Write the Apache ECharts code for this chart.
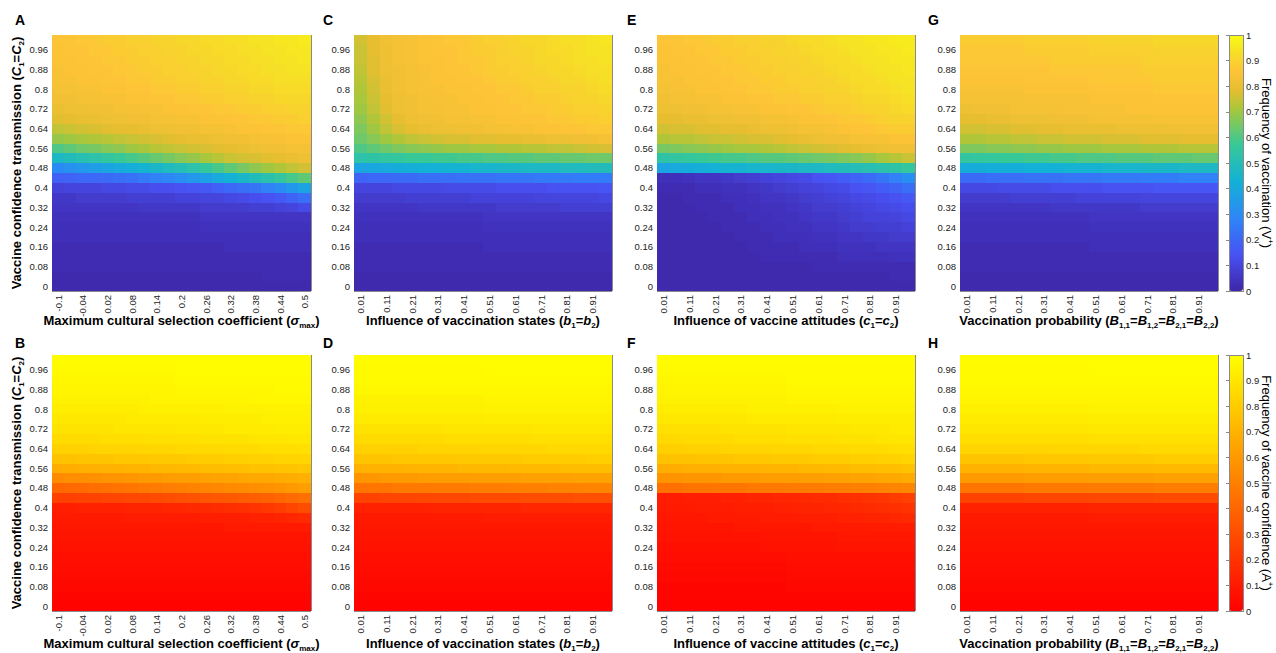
<!DOCTYPE html>
<html><head><meta charset="utf-8">
<script src="https://cdn.jsdelivr.net/npm/echarts@6/dist/echarts.min.js"></script>
<style>html,body{margin:0;padding:0;background:#fff}#c{width:1276px;height:653px}#c svg path{shape-rendering:crispEdges}</style>
</head><body><div id="c"></div>
<script>
// ---- categories / tick labels ----
const xSigma = ['-0.1','-0.07','-0.04','-0.01','0.02','0.05','0.08','0.11','0.14','0.17','0.2','0.23','0.26','0.29','0.32','0.35','0.38','0.41','0.44','0.47','0.5'];
const xUnit = ['0.01','0.06','0.11','0.16','0.21','0.26','0.31','0.36','0.41','0.46','0.51','0.56','0.61','0.66','0.71','0.76','0.81','0.86','0.91','0.96'];
const yC = ['0','0.04','0.08','0.12','0.16','0.2','0.24','0.28','0.32','0.36','0.4','0.44','0.48','0.52','0.56','0.6','0.64','0.68','0.72','0.76','0.8','0.84','0.88','0.92','0.96','1'];

// ---- panel A: V+ vs sigma_max (rows: y = 0 ... 1) ----
const vA = [
[0.01,0.01,0.01,0.01,0.01,0.01,0.01,0.01,0.01,0.01,0.01,0.01,0.01,0.01,0.01,0.01,0.01,0.01,0.01,0.01,0.01],
[0.01,0.01,0.01,0.01,0.01,0.01,0.01,0.01,0.01,0.01,0.01,0.01,0.01,0.01,0.01,0.01,0.01,0.02,0.02,0.02,0.02],
[0.02,0.02,0.02,0.02,0.02,0.02,0.02,0.02,0.02,0.02,0.02,0.02,0.02,0.02,0.02,0.02,0.02,0.02,0.02,0.02,0.02],
[0.02,0.02,0.02,0.02,0.02,0.02,0.02,0.02,0.02,0.02,0.02,0.02,0.02,0.02,0.02,0.02,0.02,0.02,0.02,0.02,0.02],
[0.02,0.02,0.02,0.02,0.02,0.02,0.02,0.02,0.02,0.02,0.02,0.02,0.02,0.02,0.03,0.03,0.03,0.03,0.03,0.03,0.03],
[0.03,0.03,0.03,0.03,0.03,0.03,0.03,0.03,0.03,0.03,0.03,0.03,0.03,0.03,0.03,0.03,0.03,0.03,0.03,0.03,0.03],
[0.03,0.03,0.03,0.03,0.03,0.03,0.03,0.03,0.03,0.03,0.03,0.03,0.04,0.04,0.04,0.04,0.04,0.04,0.04,0.04,0.04],
[0.04,0.04,0.04,0.04,0.04,0.04,0.04,0.04,0.04,0.04,0.04,0.04,0.05,0.05,0.05,0.05,0.05,0.05,0.05,0.05,0.05],
[0.05,0.05,0.05,0.05,0.05,0.05,0.05,0.06,0.06,0.06,0.06,0.06,0.07,0.07,0.07,0.07,0.08,0.08,0.09,0.10,0.12],
[0.06,0.06,0.07,0.07,0.07,0.07,0.08,0.08,0.08,0.08,0.09,0.09,0.10,0.10,0.11,0.12,0.13,0.14,0.16,0.19,0.22],
[0.09,0.10,0.10,0.10,0.11,0.11,0.12,0.12,0.13,0.13,0.14,0.15,0.16,0.18,0.20,0.22,0.24,0.27,0.30,0.34,0.38],
[0.18,0.19,0.20,0.20,0.21,0.22,0.23,0.25,0.27,0.29,0.31,0.34,0.37,0.40,0.43,0.46,0.49,0.52,0.55,0.59,0.62],
[0.30,0.32,0.34,0.36,0.38,0.40,0.42,0.44,0.46,0.48,0.50,0.53,0.56,0.59,0.62,0.65,0.68,0.70,0.72,0.74,0.76],
[0.47,0.49,0.51,0.53,0.55,0.57,0.59,0.61,0.63,0.65,0.67,0.69,0.71,0.73,0.75,0.76,0.77,0.78,0.79,0.80,0.81],
[0.60,0.62,0.64,0.65,0.67,0.68,0.70,0.71,0.73,0.74,0.75,0.76,0.77,0.78,0.79,0.80,0.81,0.82,0.82,0.83,0.83],
[0.69,0.70,0.71,0.72,0.73,0.74,0.75,0.76,0.77,0.78,0.79,0.80,0.80,0.81,0.82,0.82,0.83,0.84,0.84,0.85,0.85],
[0.74,0.75,0.76,0.77,0.78,0.79,0.79,0.80,0.81,0.81,0.82,0.82,0.83,0.83,0.84,0.85,0.85,0.86,0.86,0.87,0.87],
[0.78,0.79,0.80,0.80,0.81,0.81,0.82,0.82,0.83,0.83,0.84,0.84,0.85,0.85,0.86,0.86,0.87,0.87,0.88,0.88,0.89],
[0.80,0.81,0.81,0.82,0.82,0.83,0.83,0.84,0.84,0.85,0.85,0.86,0.86,0.87,0.87,0.88,0.88,0.89,0.89,0.90,0.90],
[0.82,0.82,0.83,0.83,0.84,0.84,0.85,0.85,0.86,0.86,0.87,0.87,0.88,0.88,0.89,0.89,0.90,0.90,0.91,0.91,0.91],
[0.83,0.83,0.84,0.84,0.85,0.85,0.86,0.86,0.87,0.87,0.88,0.88,0.89,0.89,0.90,0.90,0.91,0.91,0.92,0.92,0.92],
[0.84,0.84,0.85,0.85,0.86,0.86,0.87,0.87,0.88,0.88,0.89,0.89,0.90,0.90,0.91,0.91,0.92,0.92,0.93,0.93,0.93],
[0.84,0.85,0.85,0.86,0.86,0.87,0.87,0.88,0.88,0.89,0.89,0.90,0.90,0.91,0.91,0.92,0.92,0.93,0.93,0.94,0.94],
[0.85,0.85,0.86,0.86,0.87,0.87,0.88,0.88,0.89,0.89,0.90,0.90,0.91,0.91,0.92,0.92,0.93,0.93,0.94,0.94,0.95],
[0.85,0.86,0.86,0.87,0.87,0.88,0.88,0.89,0.89,0.90,0.90,0.91,0.91,0.92,0.92,0.93,0.93,0.94,0.94,0.95,0.95],
[0.86,0.86,0.87,0.87,0.88,0.88,0.89,0.89,0.90,0.90,0.91,0.91,0.92,0.92,0.93,0.93,0.94,0.94,0.95,0.95,0.96]
];

// ---- panel C: V+ vs b ----
const vC = [
[0.01,0.01,0.01,0.01,0.01,0.01,0.01,0.01,0.01,0.01,0.01,0.01,0.01,0.01,0.01,0.01,0.01,0.01,0.01,0.01],
[0.01,0.01,0.01,0.01,0.01,0.01,0.01,0.01,0.01,0.01,0.01,0.01,0.01,0.01,0.01,0.01,0.01,0.01,0.01,0.01],
[0.02,0.02,0.02,0.02,0.02,0.02,0.02,0.02,0.02,0.02,0.02,0.02,0.02,0.02,0.02,0.02,0.02,0.02,0.02,0.02],
[0.02,0.02,0.02,0.02,0.02,0.02,0.02,0.02,0.02,0.02,0.02,0.02,0.02,0.02,0.02,0.02,0.02,0.02,0.02,0.02],
[0.02,0.02,0.02,0.02,0.02,0.02,0.02,0.02,0.02,0.02,0.03,0.03,0.03,0.03,0.03,0.03,0.03,0.03,0.03,0.03],
[0.03,0.03,0.03,0.03,0.03,0.03,0.03,0.03,0.03,0.03,0.03,0.03,0.03,0.03,0.03,0.03,0.03,0.03,0.03,0.03],
[0.03,0.03,0.03,0.03,0.03,0.03,0.03,0.03,0.03,0.03,0.04,0.04,0.04,0.04,0.04,0.04,0.04,0.04,0.04,0.04],
[0.04,0.04,0.04,0.04,0.04,0.04,0.04,0.04,0.04,0.04,0.05,0.05,0.05,0.05,0.05,0.05,0.05,0.05,0.05,0.05],
[0.05,0.05,0.05,0.05,0.05,0.06,0.06,0.06,0.06,0.06,0.06,0.07,0.07,0.07,0.07,0.07,0.08,0.08,0.08,0.08],
[0.07,0.07,0.07,0.07,0.08,0.08,0.08,0.08,0.08,0.09,0.09,0.09,0.09,0.09,0.10,0.10,0.10,0.10,0.10,0.11],
[0.10,0.10,0.10,0.11,0.11,0.11,0.11,0.12,0.12,0.12,0.12,0.13,0.13,0.13,0.13,0.14,0.14,0.14,0.14,0.15],
[0.19,0.20,0.20,0.21,0.21,0.22,0.22,0.22,0.23,0.23,0.23,0.24,0.24,0.24,0.25,0.25,0.25,0.26,0.26,0.26],
[0.38,0.39,0.40,0.41,0.42,0.43,0.43,0.44,0.44,0.45,0.45,0.46,0.46,0.47,0.47,0.47,0.48,0.48,0.49,0.49],
[0.53,0.54,0.55,0.56,0.57,0.57,0.58,0.58,0.59,0.59,0.60,0.60,0.61,0.61,0.62,0.62,0.63,0.63,0.64,0.64],
[0.60,0.62,0.64,0.66,0.67,0.68,0.69,0.70,0.70,0.71,0.71,0.72,0.72,0.73,0.73,0.74,0.74,0.75,0.76,0.77],
[0.64,0.67,0.70,0.72,0.74,0.75,0.76,0.77,0.77,0.78,0.78,0.79,0.79,0.80,0.80,0.81,0.81,0.82,0.82,0.83],
[0.66,0.70,0.74,0.77,0.79,0.80,0.81,0.81,0.82,0.82,0.83,0.83,0.84,0.84,0.85,0.85,0.86,0.86,0.87,0.87],
[0.68,0.72,0.76,0.79,0.81,0.82,0.82,0.83,0.83,0.84,0.84,0.85,0.85,0.86,0.86,0.87,0.87,0.88,0.88,0.89],
[0.70,0.74,0.78,0.81,0.82,0.83,0.83,0.84,0.84,0.85,0.85,0.86,0.86,0.87,0.87,0.88,0.88,0.89,0.89,0.90],
[0.71,0.75,0.79,0.81,0.82,0.83,0.84,0.84,0.85,0.85,0.86,0.86,0.87,0.87,0.88,0.88,0.89,0.90,0.90,0.91],
[0.72,0.76,0.80,0.82,0.83,0.84,0.84,0.85,0.85,0.86,0.86,0.87,0.87,0.88,0.89,0.89,0.90,0.90,0.91,0.92],
[0.73,0.77,0.80,0.82,0.83,0.84,0.85,0.85,0.86,0.86,0.87,0.88,0.88,0.89,0.89,0.90,0.91,0.91,0.92,0.93],
[0.74,0.78,0.81,0.82,0.83,0.84,0.85,0.86,0.86,0.87,0.88,0.88,0.89,0.89,0.90,0.91,0.91,0.92,0.93,0.93],
[0.75,0.78,0.81,0.83,0.84,0.85,0.85,0.86,0.87,0.87,0.88,0.89,0.89,0.90,0.91,0.91,0.92,0.93,0.93,0.94],
[0.75,0.79,0.81,0.83,0.84,0.85,0.86,0.86,0.87,0.88,0.88,0.89,0.90,0.90,0.91,0.92,0.92,0.93,0.94,0.94],
[0.76,0.79,0.82,0.83,0.84,0.85,0.86,0.87,0.87,0.88,0.89,0.89,0.90,0.91,0.91,0.92,0.93,0.93,0.94,0.95]
];

// ---- panel E: V+ vs c ----
const vE = [
[0.01,0.01,0.01,0.01,0.01,0.01,0.01,0.01,0.01,0.01,0.01,0.01,0.01,0.01,0.01,0.01,0.01,0.01,0.01,0.01],
[0.01,0.01,0.01,0.01,0.01,0.01,0.01,0.01,0.01,0.01,0.01,0.01,0.01,0.01,0.01,0.01,0.01,0.01,0.02,0.02],
[0.01,0.01,0.01,0.01,0.01,0.01,0.01,0.01,0.01,0.01,0.01,0.01,0.02,0.02,0.02,0.02,0.02,0.02,0.02,0.02],
[0.01,0.01,0.01,0.01,0.01,0.01,0.01,0.01,0.02,0.02,0.02,0.02,0.02,0.02,0.03,0.03,0.03,0.03,0.04,0.04],
[0.01,0.01,0.01,0.01,0.01,0.01,0.01,0.02,0.02,0.02,0.02,0.03,0.03,0.03,0.04,0.04,0.04,0.05,0.05,0.05],
[0.01,0.01,0.01,0.01,0.01,0.01,0.02,0.02,0.02,0.03,0.03,0.03,0.04,0.04,0.05,0.05,0.06,0.06,0.07,0.07],
[0.01,0.01,0.01,0.01,0.01,0.02,0.02,0.02,0.03,0.03,0.04,0.04,0.05,0.05,0.06,0.07,0.07,0.08,0.08,0.09],
[0.01,0.01,0.01,0.01,0.02,0.02,0.02,0.03,0.03,0.04,0.04,0.05,0.06,0.06,0.07,0.08,0.09,0.09,0.10,0.11],
[0.01,0.01,0.01,0.02,0.02,0.02,0.03,0.03,0.04,0.04,0.05,0.06,0.07,0.07,0.08,0.09,0.10,0.11,0.12,0.13],
[0.01,0.01,0.02,0.02,0.02,0.03,0.03,0.04,0.05,0.05,0.06,0.07,0.08,0.09,0.10,0.11,0.12,0.13,0.14,0.16],
[0.02,0.02,0.02,0.03,0.03,0.04,0.04,0.05,0.06,0.07,0.08,0.09,0.10,0.11,0.12,0.14,0.15,0.17,0.19,0.22],
[0.03,0.03,0.04,0.05,0.05,0.06,0.07,0.08,0.09,0.10,0.11,0.12,0.14,0.15,0.17,0.19,0.21,0.24,0.27,0.31],
[0.38,0.40,0.41,0.42,0.43,0.44,0.44,0.45,0.45,0.46,0.46,0.47,0.47,0.48,0.49,0.50,0.51,0.52,0.54,0.56],
[0.54,0.55,0.56,0.57,0.58,0.59,0.59,0.60,0.61,0.61,0.62,0.63,0.64,0.65,0.66,0.67,0.69,0.71,0.73,0.75],
[0.65,0.66,0.67,0.68,0.69,0.70,0.71,0.71,0.72,0.73,0.74,0.75,0.76,0.77,0.78,0.79,0.80,0.81,0.82,0.82],
[0.72,0.73,0.73,0.74,0.75,0.75,0.76,0.77,0.77,0.78,0.79,0.80,0.81,0.82,0.82,0.83,0.84,0.84,0.85,0.85],
[0.76,0.77,0.77,0.78,0.78,0.79,0.79,0.80,0.81,0.81,0.82,0.83,0.83,0.84,0.85,0.86,0.86,0.87,0.88,0.88],
[0.79,0.79,0.80,0.80,0.81,0.81,0.82,0.82,0.83,0.83,0.84,0.85,0.85,0.86,0.87,0.87,0.88,0.89,0.90,0.90],
[0.81,0.81,0.82,0.82,0.83,0.83,0.84,0.84,0.85,0.85,0.86,0.86,0.87,0.88,0.88,0.89,0.90,0.90,0.91,0.92],
[0.82,0.83,0.83,0.84,0.84,0.85,0.85,0.86,0.86,0.87,0.87,0.88,0.88,0.89,0.89,0.90,0.91,0.91,0.92,0.93],
[0.83,0.84,0.84,0.85,0.85,0.86,0.86,0.87,0.87,0.88,0.88,0.89,0.89,0.90,0.90,0.91,0.92,0.92,0.93,0.94],
[0.84,0.84,0.85,0.85,0.86,0.86,0.87,0.87,0.88,0.88,0.89,0.89,0.90,0.90,0.91,0.92,0.92,0.93,0.94,0.94],
[0.84,0.85,0.85,0.86,0.86,0.87,0.87,0.88,0.88,0.89,0.89,0.90,0.90,0.91,0.92,0.92,0.93,0.94,0.94,0.95],
[0.85,0.85,0.86,0.86,0.87,0.87,0.88,0.88,0.89,0.89,0.90,0.90,0.91,0.92,0.92,0.93,0.94,0.94,0.95,0.95],
[0.85,0.86,0.86,0.87,0.87,0.88,0.88,0.89,0.89,0.90,0.90,0.91,0.92,0.92,0.93,0.94,0.94,0.95,0.95,0.96],
[0.86,0.86,0.87,0.87,0.88,0.88,0.89,0.89,0.90,0.90,0.91,0.92,0.92,0.93,0.94,0.94,0.95,0.95,0.96,0.96]
];

// ---- panel G: V+ vs B ----
const vG = [
[0.01,0.01,0.01,0.01,0.01,0.01,0.01,0.01,0.01,0.01,0.01,0.01,0.01,0.01,0.01,0.01,0.01,0.01,0.01,0.01],
[0.01,0.01,0.01,0.01,0.01,0.01,0.01,0.01,0.01,0.01,0.01,0.01,0.01,0.01,0.01,0.01,0.01,0.01,0.01,0.01],
[0.02,0.02,0.02,0.02,0.02,0.02,0.02,0.02,0.02,0.02,0.02,0.02,0.02,0.02,0.02,0.02,0.02,0.02,0.02,0.02],
[0.02,0.02,0.02,0.02,0.02,0.02,0.02,0.02,0.02,0.02,0.02,0.02,0.02,0.02,0.02,0.02,0.02,0.02,0.02,0.02],
[0.02,0.02,0.02,0.02,0.02,0.02,0.02,0.02,0.02,0.02,0.03,0.03,0.03,0.03,0.03,0.03,0.03,0.03,0.03,0.03],
[0.03,0.03,0.03,0.03,0.03,0.03,0.03,0.03,0.03,0.03,0.03,0.03,0.03,0.03,0.03,0.03,0.03,0.03,0.03,0.03],
[0.03,0.03,0.03,0.03,0.03,0.03,0.03,0.03,0.03,0.03,0.04,0.04,0.04,0.04,0.04,0.04,0.04,0.04,0.04,0.04],
[0.04,0.04,0.04,0.04,0.04,0.04,0.04,0.04,0.04,0.04,0.05,0.05,0.05,0.05,0.05,0.05,0.05,0.05,0.05,0.05],
[0.05,0.05,0.05,0.05,0.05,0.05,0.05,0.06,0.06,0.06,0.06,0.06,0.06,0.06,0.07,0.07,0.07,0.07,0.07,0.07],
[0.07,0.07,0.07,0.07,0.08,0.08,0.08,0.08,0.08,0.09,0.09,0.09,0.09,0.09,0.10,0.10,0.10,0.10,0.10,0.10],
[0.11,0.11,0.11,0.12,0.12,0.12,0.12,0.13,0.13,0.13,0.13,0.14,0.14,0.14,0.14,0.15,0.15,0.15,0.15,0.15],
[0.21,0.21,0.22,0.22,0.22,0.23,0.23,0.23,0.24,0.24,0.24,0.25,0.25,0.25,0.26,0.26,0.26,0.27,0.27,0.27],
[0.41,0.41,0.42,0.42,0.42,0.43,0.43,0.43,0.44,0.44,0.44,0.45,0.45,0.45,0.46,0.46,0.46,0.47,0.47,0.47],
[0.55,0.56,0.56,0.57,0.57,0.58,0.58,0.59,0.59,0.60,0.60,0.60,0.61,0.61,0.61,0.62,0.62,0.62,0.63,0.63],
[0.66,0.66,0.67,0.67,0.68,0.68,0.69,0.69,0.70,0.70,0.70,0.71,0.71,0.71,0.72,0.72,0.72,0.73,0.73,0.73],
[0.72,0.72,0.73,0.73,0.74,0.74,0.75,0.75,0.76,0.76,0.76,0.77,0.77,0.77,0.78,0.78,0.78,0.79,0.79,0.79],
[0.76,0.76,0.77,0.77,0.78,0.78,0.79,0.79,0.80,0.80,0.80,0.80,0.81,0.81,0.81,0.81,0.82,0.82,0.82,0.82],
[0.79,0.79,0.80,0.80,0.81,0.81,0.81,0.82,0.82,0.82,0.83,0.83,0.83,0.83,0.83,0.84,0.84,0.84,0.84,0.84],
[0.81,0.82,0.82,0.82,0.83,0.83,0.83,0.83,0.84,0.84,0.84,0.84,0.84,0.85,0.85,0.85,0.85,0.85,0.85,0.85],
[0.83,0.83,0.83,0.83,0.83,0.84,0.84,0.84,0.84,0.84,0.85,0.85,0.85,0.85,0.85,0.86,0.86,0.86,0.86,0.86],
[0.84,0.84,0.84,0.84,0.84,0.85,0.85,0.85,0.85,0.85,0.86,0.86,0.86,0.86,0.86,0.87,0.87,0.87,0.87,0.87],
[0.85,0.85,0.85,0.85,0.85,0.86,0.86,0.86,0.86,0.86,0.87,0.87,0.87,0.87,0.87,0.88,0.88,0.88,0.88,0.88],
[0.86,0.86,0.86,0.86,0.86,0.86,0.86,0.87,0.87,0.87,0.87,0.87,0.87,0.87,0.88,0.88,0.88,0.88,0.88,0.88],
[0.87,0.87,0.87,0.87,0.87,0.87,0.87,0.88,0.88,0.88,0.88,0.88,0.88,0.88,0.89,0.89,0.89,0.89,0.89,0.89],
[0.87,0.87,0.87,0.87,0.87,0.88,0.88,0.88,0.88,0.88,0.89,0.89,0.89,0.89,0.89,0.90,0.90,0.90,0.90,0.90],
[0.88,0.88,0.88,0.88,0.88,0.89,0.89,0.89,0.89,0.89,0.90,0.90,0.90,0.90,0.90,0.91,0.91,0.91,0.91,0.91]
];

// ---- panel B: A+ vs sigma_max ----
const vB = [
[0.01,0.01,0.01,0.01,0.01,0.01,0.01,0.01,0.01,0.01,0.01,0.01,0.01,0.01,0.01,0.01,0.01,0.01,0.01,0.01,0.01],
[0.02,0.02,0.02,0.02,0.02,0.02,0.02,0.02,0.02,0.02,0.02,0.02,0.02,0.02,0.02,0.02,0.02,0.02,0.02,0.02,0.02],
[0.03,0.03,0.03,0.03,0.03,0.03,0.03,0.03,0.03,0.03,0.03,0.03,0.03,0.03,0.03,0.03,0.03,0.03,0.03,0.03,0.03],
[0.04,0.04,0.04,0.04,0.04,0.04,0.04,0.04,0.04,0.04,0.04,0.04,0.04,0.04,0.04,0.04,0.04,0.04,0.04,0.04,0.04],
[0.05,0.05,0.05,0.05,0.05,0.05,0.05,0.05,0.05,0.05,0.05,0.05,0.05,0.05,0.05,0.05,0.05,0.05,0.05,0.05,0.05],
[0.06,0.06,0.06,0.06,0.06,0.06,0.06,0.06,0.06,0.06,0.06,0.06,0.06,0.06,0.06,0.06,0.06,0.06,0.06,0.06,0.06],
[0.07,0.07,0.07,0.07,0.07,0.07,0.07,0.07,0.07,0.07,0.07,0.07,0.07,0.07,0.07,0.07,0.07,0.07,0.07,0.07,0.07],
[0.08,0.08,0.08,0.08,0.08,0.08,0.08,0.08,0.08,0.08,0.08,0.08,0.08,0.08,0.08,0.08,0.08,0.08,0.08,0.08,0.08],
[0.09,0.09,0.09,0.09,0.09,0.09,0.09,0.09,0.09,0.09,0.09,0.09,0.09,0.09,0.10,0.10,0.10,0.10,0.10,0.10,0.10],
[0.10,0.10,0.10,0.10,0.10,0.10,0.11,0.11,0.11,0.11,0.11,0.11,0.12,0.12,0.12,0.12,0.13,0.13,0.14,0.15,0.17],
[0.12,0.12,0.13,0.13,0.13,0.13,0.14,0.14,0.14,0.15,0.15,0.16,0.16,0.17,0.18,0.19,0.20,0.22,0.24,0.27,0.30],
[0.25,0.25,0.26,0.26,0.27,0.27,0.28,0.28,0.29,0.30,0.31,0.32,0.33,0.34,0.35,0.36,0.37,0.38,0.40,0.42,0.44],
[0.40,0.41,0.42,0.43,0.44,0.45,0.46,0.47,0.48,0.49,0.50,0.51,0.52,0.53,0.54,0.55,0.56,0.57,0.58,0.60,0.62],
[0.55,0.56,0.56,0.57,0.58,0.58,0.59,0.60,0.60,0.61,0.62,0.62,0.63,0.64,0.64,0.65,0.66,0.66,0.67,0.68,0.69],
[0.68,0.68,0.69,0.69,0.70,0.70,0.71,0.71,0.72,0.72,0.73,0.73,0.74,0.74,0.75,0.75,0.76,0.76,0.77,0.77,0.78],
[0.76,0.76,0.77,0.77,0.77,0.78,0.78,0.78,0.79,0.79,0.79,0.80,0.80,0.80,0.81,0.81,0.82,0.82,0.83,0.83,0.84],
[0.82,0.82,0.82,0.83,0.83,0.83,0.83,0.84,0.84,0.84,0.85,0.85,0.85,0.85,0.86,0.86,0.86,0.87,0.87,0.87,0.88],
[0.86,0.86,0.86,0.86,0.87,0.87,0.87,0.87,0.88,0.88,0.88,0.88,0.89,0.89,0.89,0.89,0.90,0.90,0.90,0.91,0.91],
[0.89,0.89,0.89,0.89,0.89,0.90,0.90,0.90,0.90,0.90,0.91,0.91,0.91,0.91,0.92,0.92,0.92,0.92,0.93,0.93,0.93],
[0.91,0.91,0.91,0.91,0.91,0.91,0.92,0.92,0.92,0.92,0.92,0.92,0.93,0.93,0.93,0.93,0.93,0.94,0.94,0.94,0.94],
[0.93,0.93,0.93,0.93,0.93,0.93,0.93,0.94,0.94,0.94,0.94,0.94,0.94,0.94,0.95,0.95,0.95,0.95,0.95,0.95,0.95],
[0.95,0.95,0.95,0.95,0.95,0.95,0.95,0.95,0.96,0.96,0.96,0.96,0.96,0.96,0.96,0.96,0.97,0.97,0.97,0.97,0.97],
[0.96,0.96,0.96,0.96,0.96,0.96,0.96,0.96,0.96,0.96,0.97,0.97,0.97,0.97,0.97,0.97,0.97,0.97,0.98,0.98,0.98],
[0.97,0.97,0.97,0.97,0.97,0.97,0.97,0.97,0.97,0.97,0.98,0.98,0.98,0.98,0.98,0.98,0.98,0.98,0.98,0.98,0.98],
[0.98,0.98,0.98,0.98,0.98,0.98,0.98,0.98,0.98,0.98,0.99,0.99,0.99,0.99,0.99,0.99,0.99,0.99,0.99,0.99,0.99],
[0.99,0.99,0.99,0.99,0.99,0.99,0.99,0.99,0.99,0.99,0.99,0.99,0.99,0.99,0.99,0.99,0.99,0.99,0.99,0.99,0.99]
];

// ---- panel D: A+ vs b ----
const vD = [
[0.01,0.01,0.01,0.01,0.01,0.01,0.01,0.01,0.01,0.01,0.01,0.01,0.01,0.01,0.01,0.01,0.01,0.01,0.01,0.01],
[0.02,0.02,0.02,0.02,0.02,0.02,0.02,0.02,0.02,0.02,0.02,0.02,0.02,0.02,0.02,0.02,0.02,0.02,0.02,0.02],
[0.03,0.03,0.03,0.03,0.03,0.03,0.03,0.03,0.03,0.03,0.03,0.03,0.03,0.03,0.03,0.03,0.03,0.03,0.03,0.03],
[0.04,0.04,0.04,0.04,0.04,0.04,0.04,0.04,0.04,0.04,0.04,0.04,0.04,0.04,0.04,0.04,0.04,0.04,0.04,0.04],
[0.05,0.05,0.05,0.05,0.05,0.05,0.05,0.05,0.05,0.05,0.05,0.05,0.05,0.05,0.05,0.05,0.05,0.05,0.05,0.05],
[0.06,0.06,0.06,0.06,0.06,0.06,0.06,0.06,0.06,0.06,0.06,0.06,0.06,0.06,0.06,0.06,0.06,0.06,0.06,0.06],
[0.07,0.07,0.07,0.07,0.07,0.07,0.07,0.07,0.07,0.07,0.07,0.07,0.07,0.07,0.07,0.07,0.07,0.07,0.07,0.07],
[0.08,0.08,0.08,0.08,0.08,0.08,0.08,0.08,0.08,0.08,0.08,0.08,0.08,0.08,0.08,0.08,0.08,0.08,0.08,0.08],
[0.09,0.09,0.09,0.09,0.09,0.09,0.09,0.09,0.09,0.09,0.09,0.09,0.09,0.09,0.09,0.09,0.09,0.09,0.09,0.09],
[0.10,0.10,0.10,0.10,0.10,0.10,0.10,0.10,0.10,0.10,0.11,0.11,0.11,0.11,0.11,0.11,0.11,0.11,0.11,0.11],
[0.13,0.13,0.13,0.13,0.13,0.13,0.14,0.14,0.14,0.14,0.14,0.14,0.14,0.15,0.15,0.15,0.15,0.15,0.15,0.15],
[0.26,0.26,0.27,0.27,0.27,0.28,0.28,0.28,0.28,0.29,0.29,0.29,0.29,0.30,0.30,0.30,0.30,0.31,0.31,0.31],
[0.45,0.46,0.46,0.47,0.47,0.47,0.48,0.48,0.48,0.49,0.49,0.49,0.50,0.50,0.50,0.51,0.51,0.51,0.52,0.52],
[0.59,0.59,0.60,0.60,0.60,0.61,0.61,0.61,0.61,0.62,0.62,0.62,0.62,0.63,0.63,0.63,0.63,0.64,0.64,0.64],
[0.69,0.70,0.70,0.70,0.71,0.71,0.71,0.71,0.72,0.72,0.72,0.72,0.73,0.73,0.73,0.73,0.74,0.74,0.74,0.74],
[0.77,0.77,0.77,0.78,0.78,0.78,0.78,0.78,0.79,0.79,0.79,0.79,0.79,0.80,0.80,0.80,0.80,0.80,0.81,0.81],
[0.82,0.82,0.82,0.82,0.82,0.83,0.83,0.83,0.83,0.83,0.84,0.84,0.84,0.84,0.84,0.85,0.85,0.85,0.85,0.85],
[0.86,0.86,0.86,0.86,0.86,0.86,0.86,0.87,0.87,0.87,0.87,0.87,0.87,0.87,0.88,0.88,0.88,0.88,0.88,0.88],
[0.89,0.89,0.89,0.89,0.89,0.89,0.89,0.90,0.90,0.90,0.90,0.90,0.90,0.90,0.91,0.91,0.91,0.91,0.91,0.91],
[0.92,0.92,0.92,0.92,0.92,0.92,0.92,0.92,0.92,0.92,0.93,0.93,0.93,0.93,0.93,0.93,0.93,0.93,0.93,0.93],
[0.94,0.94,0.94,0.94,0.94,0.94,0.94,0.94,0.94,0.94,0.95,0.95,0.95,0.95,0.95,0.95,0.95,0.95,0.95,0.95],
[0.95,0.95,0.95,0.95,0.95,0.95,0.95,0.95,0.95,0.95,0.96,0.96,0.96,0.96,0.96,0.96,0.96,0.96,0.96,0.96],
[0.97,0.97,0.97,0.97,0.97,0.97,0.97,0.97,0.97,0.97,0.97,0.97,0.97,0.97,0.97,0.97,0.97,0.97,0.97,0.97],
[0.98,0.98,0.98,0.98,0.98,0.98,0.98,0.98,0.98,0.98,0.98,0.98,0.98,0.98,0.98,0.98,0.98,0.98,0.98,0.98],
[0.98,0.98,0.98,0.98,0.98,0.98,0.98,0.98,0.98,0.98,0.99,0.99,0.99,0.99,0.99,0.99,0.99,0.99,0.99,0.99],
[0.99,0.99,0.99,0.99,0.99,0.99,0.99,0.99,0.99,0.99,0.99,0.99,0.99,0.99,0.99,0.99,0.99,0.99,0.99,0.99]
];

// ---- panel F: A+ vs c ----
const vF = [
[0.01,0.01,0.01,0.01,0.01,0.01,0.01,0.01,0.01,0.01,0.01,0.01,0.01,0.01,0.01,0.01,0.01,0.01,0.01,0.01],
[0.02,0.02,0.02,0.02,0.02,0.02,0.02,0.02,0.02,0.02,0.02,0.02,0.02,0.02,0.02,0.02,0.02,0.02,0.02,0.02],
[0.02,0.02,0.02,0.02,0.02,0.02,0.02,0.02,0.02,0.02,0.03,0.03,0.03,0.03,0.03,0.03,0.03,0.03,0.03,0.03],
[0.03,0.03,0.03,0.03,0.03,0.03,0.03,0.03,0.03,0.03,0.04,0.04,0.04,0.04,0.04,0.04,0.04,0.04,0.04,0.04],
[0.04,0.04,0.04,0.04,0.04,0.04,0.04,0.04,0.04,0.04,0.05,0.05,0.05,0.05,0.05,0.05,0.05,0.05,0.05,0.05],
[0.05,0.05,0.05,0.05,0.05,0.05,0.05,0.05,0.05,0.05,0.06,0.06,0.06,0.06,0.06,0.06,0.06,0.06,0.06,0.06],
[0.06,0.06,0.06,0.06,0.06,0.06,0.06,0.06,0.07,0.07,0.07,0.07,0.07,0.07,0.08,0.08,0.08,0.08,0.08,0.08],
[0.07,0.07,0.07,0.07,0.07,0.07,0.07,0.07,0.08,0.08,0.08,0.08,0.08,0.08,0.09,0.09,0.09,0.09,0.09,0.09],
[0.08,0.08,0.08,0.08,0.08,0.08,0.09,0.09,0.09,0.09,0.09,0.09,0.10,0.10,0.10,0.10,0.10,0.11,0.11,0.11],
[0.09,0.09,0.09,0.09,0.10,0.10,0.10,0.10,0.11,0.11,0.11,0.12,0.12,0.12,0.13,0.13,0.14,0.14,0.15,0.16],
[0.10,0.10,0.10,0.11,0.11,0.11,0.12,0.12,0.12,0.13,0.13,0.14,0.14,0.15,0.15,0.16,0.17,0.18,0.19,0.20],
[0.11,0.11,0.12,0.12,0.12,0.13,0.13,0.14,0.14,0.15,0.15,0.16,0.17,0.17,0.18,0.19,0.20,0.21,0.23,0.25],
[0.44,0.44,0.45,0.45,0.46,0.46,0.46,0.47,0.47,0.47,0.48,0.48,0.48,0.49,0.49,0.50,0.50,0.51,0.52,0.53],
[0.58,0.58,0.59,0.59,0.59,0.60,0.60,0.60,0.61,0.61,0.61,0.62,0.62,0.63,0.63,0.64,0.64,0.65,0.66,0.67],
[0.68,0.68,0.69,0.69,0.69,0.70,0.70,0.70,0.71,0.71,0.71,0.72,0.72,0.73,0.73,0.74,0.74,0.75,0.75,0.76],
[0.76,0.76,0.76,0.77,0.77,0.77,0.78,0.78,0.78,0.79,0.79,0.79,0.80,0.80,0.80,0.81,0.81,0.82,0.82,0.83],
[0.81,0.81,0.82,0.82,0.82,0.83,0.83,0.83,0.83,0.84,0.84,0.84,0.85,0.85,0.85,0.86,0.86,0.86,0.87,0.87],
[0.85,0.85,0.86,0.86,0.86,0.86,0.87,0.87,0.87,0.87,0.88,0.88,0.88,0.88,0.89,0.89,0.89,0.90,0.90,0.90],
[0.88,0.88,0.88,0.88,0.88,0.89,0.89,0.89,0.89,0.89,0.90,0.90,0.90,0.90,0.90,0.91,0.91,0.91,0.92,0.92],
[0.91,0.91,0.91,0.91,0.91,0.91,0.91,0.92,0.92,0.92,0.92,0.92,0.92,0.92,0.93,0.93,0.93,0.93,0.93,0.93],
[0.93,0.93,0.93,0.93,0.93,0.93,0.93,0.94,0.94,0.94,0.94,0.94,0.94,0.94,0.95,0.95,0.95,0.95,0.95,0.95],
[0.95,0.95,0.95,0.95,0.95,0.95,0.95,0.95,0.95,0.95,0.96,0.96,0.96,0.96,0.96,0.96,0.96,0.96,0.96,0.96],
[0.96,0.96,0.96,0.96,0.96,0.96,0.96,0.96,0.96,0.96,0.97,0.97,0.97,0.97,0.97,0.97,0.97,0.97,0.97,0.97],
[0.97,0.97,0.97,0.97,0.97,0.97,0.97,0.97,0.97,0.97,0.98,0.98,0.98,0.98,0.98,0.98,0.98,0.98,0.98,0.98],
[0.98,0.98,0.98,0.98,0.98,0.98,0.98,0.98,0.98,0.98,0.98,0.98,0.98,0.98,0.98,0.98,0.98,0.98,0.98,0.98],
[0.99,0.99,0.99,0.99,0.99,0.99,0.99,0.99,0.99,0.99,0.99,0.99,0.99,0.99,0.99,0.99,0.99,0.99,0.99,0.99]
];

// ---- panel H: A+ vs B ----
const vH = [
[0.01,0.01,0.01,0.01,0.01,0.01,0.01,0.01,0.01,0.01,0.01,0.01,0.01,0.01,0.01,0.01,0.01,0.01,0.01,0.01],
[0.02,0.02,0.02,0.02,0.02,0.02,0.02,0.02,0.02,0.02,0.02,0.02,0.02,0.02,0.02,0.02,0.02,0.02,0.02,0.02],
[0.03,0.03,0.03,0.03,0.03,0.03,0.03,0.03,0.03,0.03,0.03,0.03,0.03,0.03,0.03,0.03,0.03,0.03,0.03,0.03],
[0.04,0.04,0.04,0.04,0.04,0.04,0.04,0.04,0.04,0.04,0.04,0.04,0.04,0.04,0.04,0.04,0.04,0.04,0.04,0.04],
[0.05,0.05,0.05,0.05,0.05,0.05,0.05,0.05,0.05,0.05,0.05,0.05,0.05,0.05,0.05,0.05,0.05,0.05,0.05,0.05],
[0.06,0.06,0.06,0.06,0.06,0.06,0.06,0.06,0.06,0.06,0.06,0.06,0.06,0.06,0.06,0.06,0.06,0.06,0.06,0.06],
[0.07,0.07,0.07,0.07,0.07,0.07,0.07,0.07,0.07,0.07,0.07,0.07,0.07,0.07,0.07,0.07,0.07,0.07,0.07,0.07],
[0.08,0.08,0.08,0.08,0.08,0.08,0.08,0.08,0.08,0.08,0.08,0.08,0.08,0.08,0.08,0.08,0.08,0.08,0.08,0.08],
[0.09,0.09,0.09,0.09,0.09,0.09,0.09,0.09,0.09,0.09,0.09,0.09,0.09,0.09,0.09,0.09,0.09,0.09,0.09,0.09],
[0.10,0.10,0.10,0.10,0.10,0.10,0.10,0.10,0.10,0.10,0.11,0.11,0.11,0.11,0.11,0.11,0.11,0.11,0.11,0.11],
[0.13,0.13,0.13,0.13,0.13,0.13,0.13,0.13,0.13,0.13,0.14,0.14,0.14,0.14,0.14,0.14,0.14,0.14,0.14,0.14],
[0.26,0.26,0.26,0.26,0.26,0.27,0.27,0.27,0.27,0.27,0.28,0.28,0.28,0.28,0.28,0.29,0.29,0.29,0.29,0.29],
[0.46,0.46,0.46,0.46,0.46,0.47,0.47,0.47,0.47,0.47,0.48,0.48,0.48,0.48,0.48,0.49,0.49,0.49,0.49,0.49],
[0.60,0.60,0.60,0.60,0.60,0.61,0.61,0.61,0.61,0.61,0.62,0.62,0.62,0.62,0.62,0.63,0.63,0.63,0.63,0.63],
[0.70,0.70,0.70,0.70,0.70,0.71,0.71,0.71,0.71,0.71,0.72,0.72,0.72,0.72,0.72,0.73,0.73,0.73,0.73,0.73],
[0.77,0.77,0.77,0.77,0.77,0.78,0.78,0.78,0.78,0.78,0.79,0.79,0.79,0.79,0.79,0.80,0.80,0.80,0.80,0.80],
[0.83,0.83,0.83,0.83,0.83,0.83,0.83,0.84,0.84,0.84,0.84,0.84,0.84,0.84,0.85,0.85,0.85,0.85,0.85,0.85],
[0.87,0.87,0.87,0.87,0.87,0.87,0.87,0.87,0.87,0.87,0.88,0.88,0.88,0.88,0.88,0.88,0.88,0.88,0.88,0.88],
[0.90,0.90,0.90,0.90,0.90,0.90,0.90,0.90,0.90,0.90,0.91,0.91,0.91,0.91,0.91,0.91,0.91,0.91,0.91,0.91],
[0.92,0.92,0.92,0.92,0.92,0.92,0.92,0.92,0.92,0.92,0.93,0.93,0.93,0.93,0.93,0.93,0.93,0.93,0.93,0.93],
[0.94,0.94,0.94,0.94,0.94,0.94,0.94,0.94,0.94,0.94,0.95,0.95,0.95,0.95,0.95,0.95,0.95,0.95,0.95,0.95],
[0.96,0.96,0.96,0.96,0.96,0.96,0.96,0.96,0.96,0.96,0.96,0.96,0.96,0.96,0.96,0.96,0.96,0.96,0.96,0.96],
[0.97,0.97,0.97,0.97,0.97,0.97,0.97,0.97,0.97,0.97,0.97,0.97,0.97,0.97,0.97,0.97,0.97,0.97,0.97,0.97],
[0.98,0.98,0.98,0.98,0.98,0.98,0.98,0.98,0.98,0.98,0.98,0.98,0.98,0.98,0.98,0.98,0.98,0.98,0.98,0.98],
[0.98,0.98,0.98,0.98,0.98,0.98,0.98,0.98,0.98,0.98,0.99,0.99,0.99,0.99,0.99,0.99,0.99,0.99,0.99,0.99],
[0.99,0.99,0.99,0.99,0.99,0.99,0.99,0.99,0.99,0.99,0.99,0.99,0.99,0.99,0.99,0.99,0.99,0.99,0.99,0.99]
];

// ---- styling ----
const FONT = '"Liberation Sans", Arial, Helvetica, sans-serif';
const LINE = '#8a8a8a';
// parula-like colour ramp (newer MATLAB parula), evenly spaced stops
const parula = ['#3E26A8','#433CCE','#4852F4','#3A6CF6','#2E87F7','#209CE7','#12B1D6','#25BDB6',
                '#37C897','#71C868','#ABC739','#E6BE30','#FEC338','#F6DE26','#F9FB14'];
const autumn = ['#ff0000', '#ffff00'];

const nameRich = {
  b: {fontFamily: FONT, fontWeight: 'bold', fontSize: 13, color: '#000', lineHeight: 18},
  i: {fontFamily: FONT, fontWeight: 'bold', fontStyle: 'italic', fontSize: 13, color: '#000', lineHeight: 18},
  s: {fontFamily: FONT, fontWeight: 'bold', fontSize: 8, color: '#000', lineHeight: 9, verticalAlign: 'bottom'}
};
const cbRich = {
  n: {fontFamily: FONT, fontSize: 13, color: '#000', lineHeight: 16},
  p: {fontFamily: FONT, fontSize: 8, color: '#000', lineHeight: 8, verticalAlign: 'top'}
};
const nameSigma = '{b|Maximum cultural selection coefficient (}{i|σ}{s|max}{b|)}';
const nameB = '{b|Influence of vaccination states (}{i|b}{s|1}{b|=}{i|b}{s|2}{b|)}';
const nameCc = '{b|Influence of vaccine attitudes (}{i|c}{s|1}{b|=}{i|c}{s|2}{b|)}';
const nameBB = '{b|Vaccination probability (}{i|B}{s|1,1}{b|=}{i|B}{s|1,2}{b|=}{i|B}{s|2,1}{b|=}{i|B}{s|2,2}{b|)}';
const nameY = '{b|Vaccine confidence transmission (}{i|C}{s|1}{b|=}{i|C}{s|2}{b|)}';
const cbNames = ['{n|Frequency of vaccination (V}{p|+}{n|)}', '{n|Frequency of vaccine confidence (A}{p|+}{n|)}'];

const panels = [
  {letter: 'A', data: vA, cats: xSigma, col: 0, row: 0, xname: nameSigma},
  {letter: 'C', data: vC, cats: xUnit, col: 1, row: 0, xname: nameB},
  {letter: 'E', data: vE, cats: xUnit, col: 2, row: 0, xname: nameCc},
  {letter: 'G', data: vG, cats: xUnit, col: 3, row: 0, xname: nameBB},
  {letter: 'B', data: vB, cats: xSigma, col: 0, row: 1, xname: nameSigma},
  {letter: 'D', data: vD, cats: xUnit, col: 1, row: 1, xname: nameB},
  {letter: 'F', data: vF, cats: xUnit, col: 2, row: 1, xname: nameCc},
  {letter: 'H', data: vH, cats: xUnit, col: 3, row: 1, xname: nameBB}
];
const colLeft = [52, 354, 657, 960], colW = [259, 258, 258, 258];
const rowTop = [35, 355], plotH = 256;
const letterX = [15, 323, 627, 928], letterY = [13, 336];
const xNameGap = [20, 23];

const grids = [], xAxes = [], yAxes = [], series = [], graphics = [];
const tickStyle = {show: true, inside: true, length: 3, interval: 0, alignWithLabel: true, lineStyle: {color: LINE, width: 1}};
const lineStyle = {show: true, onZero: false, lineStyle: {color: LINE, width: 1}};

panels.forEach((p, i) => {
  const left = colLeft[p.col], top = rowTop[p.row], w = colW[p.col];
  grids.push({left: left, top: top, width: w, height: plotH, containLabel: false, outerBoundsMode: 'none'});
  xAxes.push({gridIndex: i, type: 'category', data: p.cats, position: 'bottom', boundaryGap: true,
    axisLine: lineStyle, axisTick: tickStyle, splitLine: {show: false},
    axisLabel: {show: true, interval: 1, rotate: 90, fontSize: 9.5, fontFamily: FONT, color: '#222', margin: 4, hideOverlap: false},
    name: p.xname, nameLocation: 'middle', nameGap: xNameGap[p.row], nameMoveOverlap: false,
    nameTextStyle: {fontFamily: FONT, fontSize: 13, fontWeight: 'bold', color: '#000', rich: nameRich}});
  xAxes.push({gridIndex: i, type: 'category', data: p.cats, position: 'top', boundaryGap: true,
    axisLine: lineStyle, axisTick: tickStyle, axisLabel: {show: false}, splitLine: {show: false}});
  yAxes.push({gridIndex: i, type: 'category', data: yC, position: 'left', boundaryGap: true,
    axisLine: lineStyle, axisTick: tickStyle, splitLine: {show: false},
    axisLabel: {show: true, interval: 1, fontSize: 9.5, fontFamily: FONT, color: '#222', margin: 4, hideOverlap: false},
    name: p.col === 0 ? nameY : '', nameLocation: 'middle', nameRotate: 90, nameGap: 27, nameMoveOverlap: false,
    nameTextStyle: {fontFamily: FONT, fontSize: 13, fontWeight: 'bold', color: '#000', rich: nameRich}});
  yAxes.push({gridIndex: i, type: 'category', data: yC, position: 'right', boundaryGap: true,
    axisLine: lineStyle, axisTick: tickStyle, axisLabel: {show: false}, splitLine: {show: false}});
  const cells = [];
  p.data.forEach((rowVals, yi) => rowVals.forEach((v, xi) => cells.push([xi, yi, v])));
  series.push({type: 'heatmap', xAxisIndex: 2 * i, yAxisIndex: 2 * i, data: cells,
    itemStyle: {borderWidth: 0}, emphasis: {disabled: true}, progressive: 0, silent: true});
  graphics.push({type: 'text', left: letterX[p.col], top: letterY[p.row],
    style: {text: p.letter, font: 'bold 14px ' + FONT, fill: '#000'}});
});

// colorbar frames + tick axes
[0, 1].forEach(r => {
  const gi = 8 + r;
  grids.push({left: 1229, top: rowTop[r], width: 14, height: plotH, show: true, borderColor: LINE, borderWidth: 1,
    backgroundColor: 'transparent', z: 10, containLabel: false, outerBoundsMode: 'none'});
  xAxes.push({gridIndex: gi, type: 'value', show: false, min: 0, max: 1});
  yAxes.push({gridIndex: gi, type: 'value', min: 0, max: 1, interval: 0.1, position: 'right', z: 10,
    axisLine: {show: false}, splitLine: {show: false},
    axisTick: {show: true, inside: true, length: 3, lineStyle: {color: LINE}},
    axisLabel: {fontSize: 9.5, fontFamily: FONT, color: '#222', margin: 3, formatter: v => String(+v.toFixed(1))},
    name: cbNames[r], nameLocation: 'middle', nameRotate: -90, nameGap: 15, nameMoveOverlap: false,
    nameTextStyle: {fontFamily: FONT, fontSize: 13, color: '#000', rich: cbRich}});
});

const option = {
  animation: false,
  backgroundColor: '#fff',
  grid: grids, xAxis: xAxes, yAxis: yAxes, series: series,
  visualMap: [
    {type: 'continuous', min: 0, max: 1, seriesIndex: [0, 1, 2, 3], inRange: {color: parula},
     left: 1229, top: rowTop[0], itemWidth: 14, itemHeight: plotH, calculable: false, padding: 0, hoverLink: false, z: 2},
    {type: 'continuous', min: 0, max: 1, seriesIndex: [4, 5, 6, 7], inRange: {color: autumn},
     left: 1229, top: rowTop[1], itemWidth: 14, itemHeight: plotH, calculable: false, padding: 0, hoverLink: false, z: 2}
  ],
  graphic: graphics
};
const chart = echarts.init(document.getElementById('c'), null, {renderer: 'svg', width: 1276, height: 653});
chart.setOption(option);
</script></body></html>
